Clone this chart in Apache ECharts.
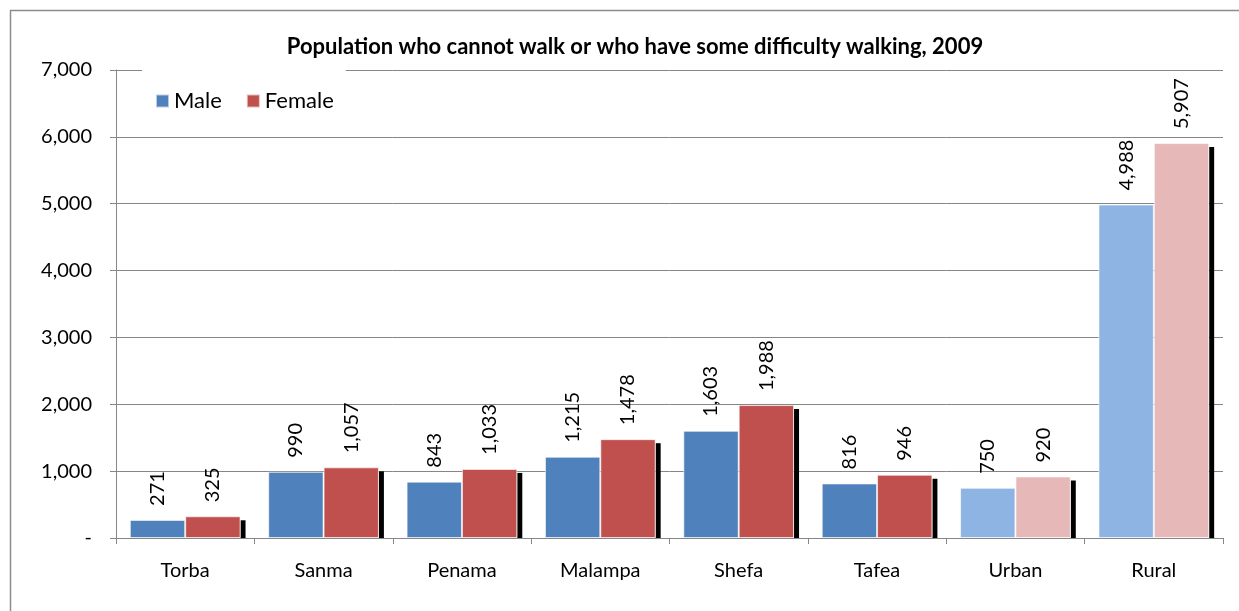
<!DOCTYPE html>
<html lang="en">
<head>
    <meta charset="UTF-8"/>
    <title>Population who cannot walk</title>
    <script src="https://cdn.jsdelivr.net/npm/echarts@6/dist/echarts.min.js"></script>
    <style>
        html, body { margin: 0; padding: 0; background: #fff; }
    </style>
</head>
<body>
<div id="main" style="width: 1239px;height:611px;"></div>

<script type="text/javascript">
    // data
    var categories = ['Torba', 'Sanma', 'Penama', 'Malampa', 'Shefa', 'Tafea', 'Urban', 'Rural'];
    var maleValues = [271, 990, 843, 1215, 1603, 816, 750, 4988];
    var femaleValues = [325, 1057, 1033, 1478, 1988, 946, 920, 5907];
    // Urban / Rural are drawn in a lighter shade
    var lightCategories = ['Urban', 'Rural'];

    var FONT = 'Lato';
    var maleColor = '#4F81BD', maleLight = '#8EB4E3';
    var femaleColor = '#C0504D', femaleLight = '#E6B9B8';

    function fmt(v) {
        return v.toLocaleString('en-US');
    }

    function barData(values, dark, light) {
        return values.map(function (v, i) {
            var isLight = lightCategories.indexOf(categories[i]) >= 0;
            return {value: v, itemStyle: {color: isLight ? light : dark}};
        });
    }

    var valueLabel = {
        show: true,
        position: 'top',
        rotate: 90,
        distance: 14,
        align: 'left',
        verticalAlign: 'middle',
        fontFamily: FONT,
        fontSize: 20,
        color: '#000',
        formatter: function (p) { return fmt(p.value); }
    };

    var myChart = echarts.init(document.getElementById('main'));
    var option = {
        animation: false,
        backgroundColor: '#fff',
        title: {
            text: 'Population who cannot walk or who have some difficulty walking, 2009',
            left: 630,
            textAlign: 'center',
            top: 31,
            textStyle: {fontFamily: FONT, fontWeight: 'bold', fontSize: 22, color: '#000'}
        },
        legend: {
            data: ['Male', 'Female'],
            left: 142,
            top: 66,
            padding: [24, 12, 20, 13],
            backgroundColor: '#fff',
            itemWidth: 13,
            itemHeight: 13,
            itemGap: 24,
            icon: 'rect',
            textStyle: {fontFamily: FONT, fontSize: 22, color: '#000'}
        },
        graphic: [
            {
                type: 'polyline',
                shape: {points: [[10.5, 611], [10.5, 10.5], [1239, 10.5]]},
                style: {stroke: '#8c8c8c', lineWidth: 1.5, fill: null},
                silent: true
            }
        ],
        grid: {left: 116, right: 16, top: 70, bottom: 73},
        xAxis: {
            type: 'category',
            data: categories,
            axisLine: {lineStyle: {color: '#868686', width: 1}},
            axisTick: {show: true, length: 6, lineStyle: {color: '#868686'}},
            axisLabel: {fontFamily: FONT, fontSize: 20, color: '#000', margin: 23}
        },
        yAxis: {
            type: 'value',
            min: 0,
            max: 7000,
            interval: 1000,
            axisLine: {show: true, lineStyle: {color: '#868686', width: 1}},
            axisTick: {show: true, length: 6, lineStyle: {color: '#868686'}},
            splitLine: {lineStyle: {color: '#868686', width: 1}},
            axisLabel: {
                fontFamily: FONT, fontSize: 20, color: '#000', margin: 24,
                formatter: function (v) { return v === 0 ? '-' : fmt(v); }
            }
        },
        series: [
            {
                name: 'Male',
                type: 'bar',
                barGap: '0%',
                barCategoryGap: '20%',
                itemStyle: {color: maleColor, borderColor: 'rgba(255,255,255,0.6)', borderWidth: 1},
                label: valueLabel,
                data: barData(maleValues, maleColor, maleLight)
            },
            {
                name: 'Female',
                type: 'bar',
                itemStyle: {color: femaleColor, borderColor: 'rgba(255,255,255,0.6)', borderWidth: 1},
                label: valueLabel,
                data: barData(femaleValues, femaleColor, femaleLight)
            },
            {
                // black drop shadow to the right of each female bar
                name: 'shadow',
                type: 'custom',
                silent: true,
                z: 1,
                data: femaleValues.map(function (v, i) { return [i, v]; }),
                renderItem: function (params, api) {
                    var top = api.coord([api.value(0), api.value(1)]);
                    var base = api.coord([api.value(0), 0]);
                    var band = api.size([1, 0])[0];
                    var x = top[0] + band * 0.4;
                    return {
                        type: 'rect',
                        shape: {x: x, y: top[1] + 4, width: 5, height: base[1] - top[1] - 4},
                        style: {fill: '#000'}
                    };
                }
            }
        ]
    };
    myChart.setOption(option);
</script>
</body>
</html>
